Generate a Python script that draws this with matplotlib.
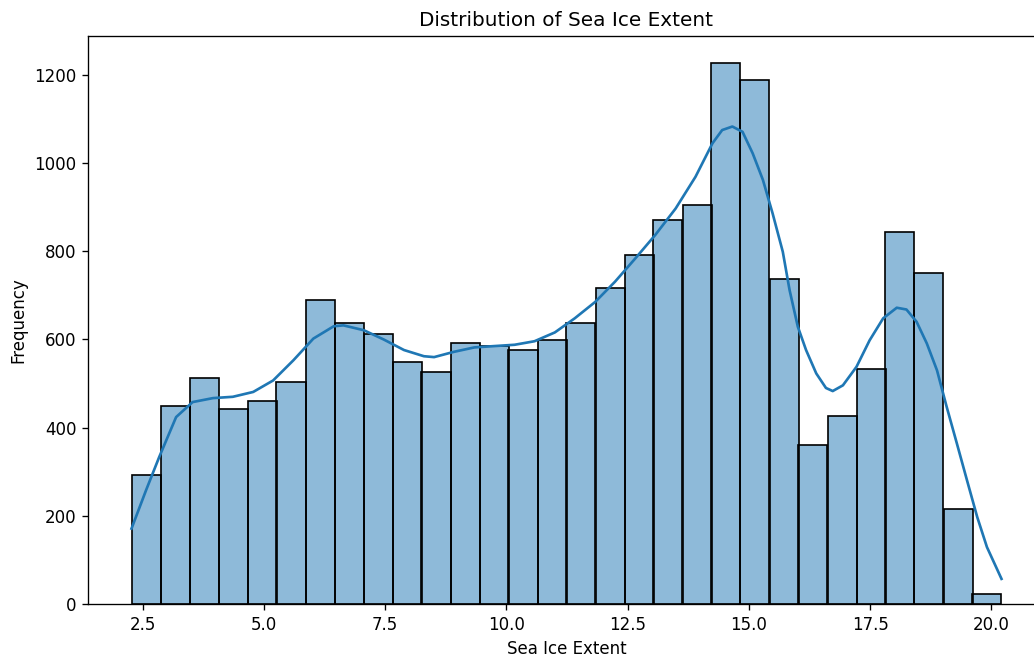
import numpy as np
import matplotlib
matplotlib.use("Agg")
import matplotlib.pyplot as plt

# histogram counts per bin (30 equal-width bins)
counts = [292, 448, 513, 442, 461, 504, 689, 638, 613, 548,
          526, 593, 585, 576, 599, 638, 716, 792, 870, 904,
          1227, 1188, 737, 361, 426, 532, 844, 750, 216, 22]
bin_lo, bin_hi = 2.27, 20.21

# kde curve, scaled to counts
kde_x = [2.27, 2.57, 2.84, 3.19, 3.53, 3.95, 4.36, 4.78, 5.19, 5.61,
         6.02, 6.44, 6.64, 7.06, 7.47, 7.89, 8.30, 8.51, 8.92, 9.34,
         9.75, 10.17, 10.58, 11.00, 11.41, 11.83, 12.24, 12.66, 13.07, 13.49,
         13.90, 14.25, 14.45, 14.66, 14.87, 15.08, 15.29, 15.49, 15.70, 15.84,
         16.01, 16.18, 16.39, 16.59, 16.73, 16.94, 17.22, 17.49, 17.77, 18.05,
         18.25, 18.46, 18.67, 18.88, 19.08, 19.29, 19.50, 19.71, 19.91, 20.21]
kde_y = [171, 258, 333, 424, 458, 467, 470, 481, 507, 553,
         602, 630, 632, 621, 600, 576, 562, 560, 572, 582,
         585, 588, 596, 616, 648, 685, 731, 784, 837, 897,
         969, 1045, 1075, 1083, 1071, 1022, 962, 886, 799, 712,
         629, 576, 523, 490, 483, 496, 538, 598, 648, 672,
         668, 640, 591, 530, 447, 364, 280, 197, 129, 57]

edges = np.linspace(bin_lo, bin_hi, len(counts) + 1)
width = edges[1] - edges[0]

fig = plt.figure(figsize=(1034 / 120, 663 / 120), dpi=120)
# right spine sits just past the canvas edge
ax = fig.add_axes([88 / 1034, 1 - 604 / 663, (1045 - 88) / 1034, (604 - 36) / 663])

ax.bar(edges[:-1], counts, width=width, align="edge",
       color="#1f77b4", alpha=0.5, edgecolor="none")
ax.bar(edges[:-1], counts, width=width, align="edge",
       fill=False, edgecolor="black", linewidth=1.0)
ax.plot(kde_x, kde_y, color="#1f77b4", linewidth=1.6)

ax.set_xlim(bin_lo - 0.05 * (bin_hi - bin_lo), bin_hi + 0.05 * (bin_hi - bin_lo))
ax.set_ylim(0, max(counts) * 1.05)
ax.set_xticks([2.5, 5.0, 7.5, 10.0, 12.5, 15.0, 17.5, 20.0])

ax.set_title("Distribution of Sea Ice Extent")
ax.set_xlabel("Sea Ice Extent")
ax.set_ylabel("Frequency")

fig.savefig("out.png", dpi=120)
